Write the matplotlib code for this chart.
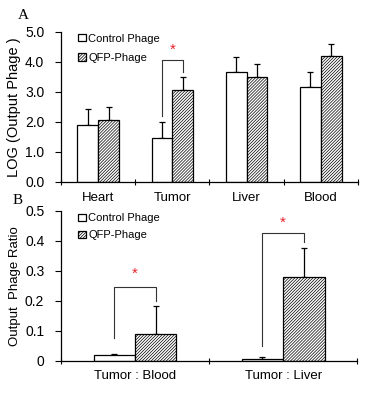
import numpy as np
import matplotlib
matplotlib.use('Agg')
import matplotlib.pyplot as plt

plt.rcParams['font.family'] = ['Liberation Sans', 'DejaVu Sans']
plt.rcParams['hatch.linewidth'] = 0.5
plt.rcParams['hatch.color'] = '#3a3a3a'

# panel A
organs = ['Heart', 'Tumor', 'Liver', 'Blood']
ctrl_log = [1.90, 1.48, 3.65, 3.16]
ctrl_log_err = [0.52, 0.52, 0.50, 0.50]
qfp_log = [2.08, 3.07, 3.48, 4.18]
qfp_log_err = [0.43, 0.44, 0.45, 0.43]

# panel B
ratios = ['Tumor : Blood', 'Tumor : Liver']
ctrl_ratio = [0.019, 0.006]
ctrl_ratio_err = [0.005, 0.005]
qfp_ratio = [0.088, 0.280]
qfp_ratio_err = [0.095, 0.097]

# significance brackets: (category, left leg bottom, top, right leg bottom, star y)
sig_a = [(1, 2.2, 4.07, 3.67, 4.40)]
sig_b = [(0, 0.077, 0.247, 0.20, 0.29), (1, 0.049, 0.427, 0.395, 0.458)]

W = 0.28


def draw_panel(ax, cats, c, ce, q, qe, sig, ymax, yticks, ylabels, ylabel, ylsize,
               ltop, lspace):
    x = np.arange(len(cats)) + 0.5
    ax.bar(x - W / 2, c, W, color='white', edgecolor='black', linewidth=0.9,
           label='Control Phage', zorder=2)
    ax.bar(x + W / 2, q, W, color='white', edgecolor='black', linewidth=0.9,
           hatch='/' * 11, label='QFP-Phage', zorder=2)
    ax.errorbar(x - W / 2, c, yerr=[np.zeros(len(c)), ce], fmt='none',
                ecolor='black', elinewidth=0.9, capsize=2, capthick=0.9, zorder=1)
    ax.errorbar(x + W / 2, q, yerr=[np.zeros(len(q)), qe], fmt='none',
                ecolor='black', elinewidth=0.9, capsize=2, capthick=0.9, zorder=1)
    for i, lo, top, ro, sy in sig:
        xl = x[i] - W / 2
        xr = x[i] + W / 2
        ax.plot([xl, xl, xr, xr], [lo, top, top, ro], color='#333333', lw=0.8)
        ax.text((xl + xr) / 2, sy, '*', color='#e8202a', fontsize=11,
                ha='center', va='center')
    ax.set_xlim(0, len(cats))
    ax.set_ylim(0, ymax)
    ax.set_xticks(np.arange(len(cats) + 1))
    ax.set_xticklabels([])
    ax.set_xticks(x, minor=True)
    ax.set_xticklabels(cats, minor=True, fontsize=9.5)
    ax.tick_params(axis='x', which='major', direction='inout', length=4, width=0.8)
    ax.tick_params(axis='x', which='minor', length=0, pad=7)
    ax.set_yticks(yticks)
    ax.set_yticklabels(ylabels, fontsize=10)
    ax.tick_params(axis='y', direction='out', length=4, width=0.8, pad=8)
    ax.spines['top'].set_visible(False)
    ax.spines['right'].set_visible(False)
    ax.spines['left'].set_linewidth(0.9)
    ax.spines['bottom'].set_linewidth(0.9)
    ax.set_ylabel(ylabel, fontsize=ylsize, labelpad=3)
    ax.legend(loc='upper left', bbox_to_anchor=(0.04, ltop), frameon=False,
              fontsize=8, handlelength=0.65, handleheight=0.65,
              handletextpad=0.25, labelspacing=lspace, borderpad=0)


fig = plt.figure(figsize=(3.72, 3.93), dpi=100)
ax1 = fig.add_axes([0.164, 0.537, 0.798, 0.382])
ax2 = fig.add_axes([0.164, 0.082, 0.796, 0.382])

draw_panel(ax1, organs, ctrl_log, ctrl_log_err, qfp_log, qfp_log_err, sig_a,
           5.0, np.arange(0, 5.5, 1.0), ['%.1f' % v for v in np.arange(0, 5.5, 1.0)],
           'LOG (Output Phage )', 10.5, 1.025, 0.85)
draw_panel(ax2, ratios, ctrl_ratio, ctrl_ratio_err, qfp_ratio, qfp_ratio_err, sig_b,
           0.5, [0, 0.1, 0.2, 0.3, 0.4, 0.5], ['0', '0.1', '0.2', '0.3', '0.4', '0.5'],
           'Output  Phage Ratio', 9.5, 1.02, 0.65)

fig.text(0.048, 0.952, 'A', family='Liberation Serif', fontsize=11)
fig.text(0.035, 0.48, 'B', family='Liberation Serif', fontsize=11)

fig.savefig('out.png', dpi=100)
